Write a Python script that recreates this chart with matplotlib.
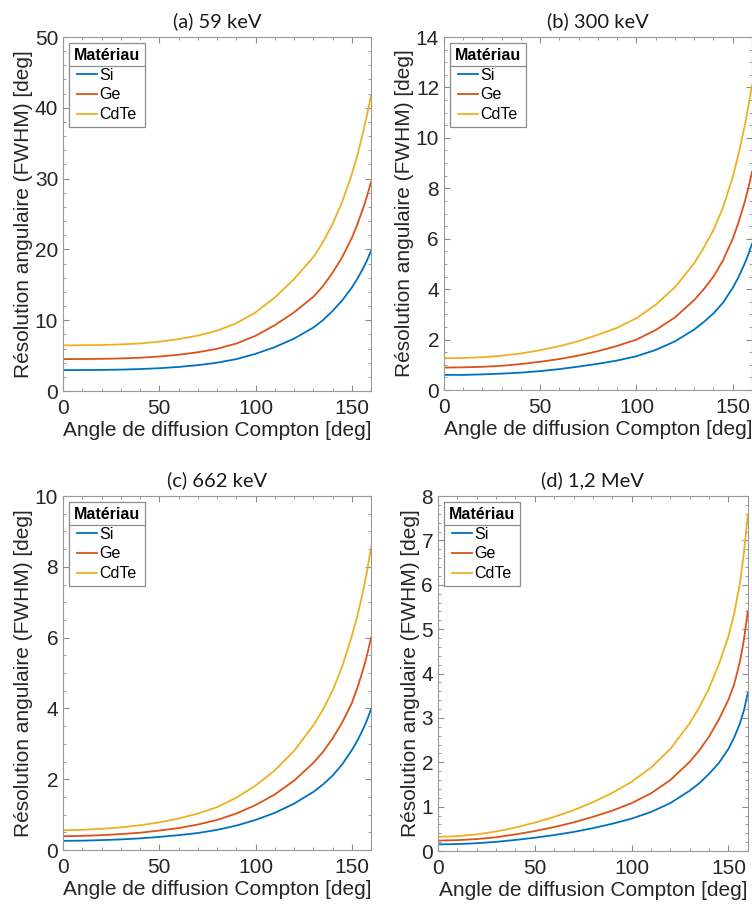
import matplotlib
matplotlib.use("Agg")
import matplotlib.pyplot as plt
from matplotlib.ticker import MultipleLocator, AutoMinorLocator
from matplotlib.lines import Line2D

# angle de diffusion Compton [deg]
angle = [0, 10, 20, 30, 40, 50, 60, 70, 80, 90, 100, 110, 120, 130,
         135, 140, 145, 150, 153, 156, 158, 160]

# (a) 59 keV
si_59 = [2.95, 2.96, 2.98, 3.02, 3.1, 3.22, 3.4, 3.65, 4.0, 4.5, 5.25, 6.2, 7.4, 8.95,
         10.0, 11.3, 12.8, 14.6, 15.9, 17.4, 18.5, 19.8]
ge_59 = [4.5, 4.52, 4.54, 4.6, 4.7, 4.87, 5.12, 5.47, 5.96, 6.7, 7.8, 9.3, 11.1, 13.3,
         14.8, 16.7, 18.9, 21.6, 23.6, 25.9, 27.6, 29.5]
cdte_59 = [6.45, 6.47, 6.5, 6.58, 6.72, 6.97, 7.32, 7.82, 8.52, 9.57, 11.1, 13.2, 15.8, 18.9,
           21.0, 23.6, 26.7, 30.6, 33.4, 36.7, 39.1, 41.8]

# (b) 300 keV
si_300 = [0.6, 0.6, 0.62, 0.65, 0.69, 0.75, 0.83, 0.93, 1.04, 1.17, 1.34, 1.59, 1.93, 2.4,
          2.7, 3.04, 3.47, 4.05, 4.48, 4.98, 5.36, 5.8]
ge_300 = [0.89, 0.9, 0.92, 0.96, 1.03, 1.12, 1.23, 1.37, 1.54, 1.75, 2.0, 2.38, 2.88, 3.57,
          4.0, 4.5, 5.15, 6.0, 6.65, 7.4, 7.98, 8.65]
cdte_300 = [1.26, 1.27, 1.30, 1.36, 1.45, 1.58, 1.74, 1.94, 2.19, 2.47, 2.85, 3.38, 4.08, 5.03,
            5.65, 6.35, 7.25, 8.45, 9.35, 10.4, 11.2, 12.1]

# (c) 662 keV
si_662 = [0.26, 0.265, 0.28, 0.3, 0.33, 0.37, 0.42, 0.48, 0.57, 0.69, 0.85, 1.05, 1.31, 1.64,
          1.85, 2.1, 2.42, 2.82, 3.1, 3.43, 3.68, 3.98]
ge_662 = [0.39, 0.4, 0.42, 0.45, 0.49, 0.55, 0.62, 0.72, 0.85, 1.03, 1.27, 1.57, 1.96, 2.46,
          2.77, 3.15, 3.6, 4.15, 4.6, 5.12, 5.52, 6.0]
cdte_662 = [0.56, 0.57, 0.6, 0.64, 0.7, 0.78, 0.89, 1.03, 1.21, 1.48, 1.82, 2.25, 2.8, 3.52,
            3.96, 4.5, 5.18, 6.04, 6.63, 7.35, 7.9, 8.55]

# (d) 1,2 MeV
si_1200 = [0.15, 0.157, 0.176, 0.207, 0.25, 0.3, 0.36, 0.43, 0.515, 0.615, 0.73, 0.88, 1.08, 1.36,
           1.53, 1.74, 1.98, 2.3, 2.56, 2.88, 3.17, 3.56]
ge_1200 = [0.235, 0.245, 0.27, 0.31, 0.375, 0.45, 0.54, 0.645, 0.77, 0.91, 1.08, 1.3, 1.6, 2.01,
           2.27, 2.58, 2.96, 3.41, 3.76, 4.28, 4.76, 5.4]
cdte_1200 = [0.32, 0.335, 0.375, 0.44, 0.53, 0.64, 0.77, 0.92, 1.1, 1.31, 1.56, 1.88, 2.3, 2.88,
             3.24, 3.67, 4.2, 4.84, 5.36, 6.05, 6.72, 7.58]

materials = ["Si", "Ge", "CdTe"]
colors = ["#0072BD", "#D95319", "#EDB120"]

panels = [
    ("(a) 59 keV", [si_59, ge_59, cdte_59], 50, 10),
    ("(b) 300 keV", [si_300, ge_300, cdte_300], 14, 2),
    ("(c) 662 keV", [si_662, ge_662, cdte_662], 10, 2),
    ("(d) 1,2 MeV", [si_1200, ge_1200, cdte_1200], 8, 1),
]

# axes boxes [left, bottom, width, height] in figure fraction
boxes = [
    [0.0838, 0.5689, 0.4096, 0.3903],
    [0.5904, 0.5700, 0.4096, 0.3892],
    [0.0838, 0.0628, 0.4096, 0.3903],
    [0.5824, 0.0617, 0.4120, 0.3914],
]

plt.rcParams['font.family'] = ['Liberation Sans', 'DejaVu Sans']
fig = plt.figure(figsize=(7.52, 9.07), dpi=100)

legends = []
for (title, series, ymax, ystep), box in zip(panels, boxes):
    ax = fig.add_axes(box)
    for vals, name, c in zip(series, materials, colors):
        ax.plot(angle, vals, color=c, lw=1.3, label=name)
    ax.set_xlim(0, 160)
    ax.set_ylim(0, ymax)
    ax.xaxis.set_major_locator(MultipleLocator(50))
    ax.xaxis.set_minor_locator(MultipleLocator(10))
    ax.yaxis.set_major_locator(MultipleLocator(ystep))
    ax.yaxis.set_minor_locator(AutoMinorLocator())
    ax.tick_params(which='both', direction='in', top=True, right=True,
                   colors='0.55', labelcolor='0.15', labelsize=15)
    ax.tick_params(axis='x', which='major', pad=6)
    ax.tick_params(which='major', length=4)
    ax.tick_params(which='minor', length=2)
    for s in ax.spines.values():
        s.set_color('0.6')
        s.set_linewidth(0.8)
    ax.set_xlabel("Angle de diffusion Compton [deg]", fontsize=15, color='0.15', labelpad=2)
    ax.set_ylabel("Résolution angulaire (FWHM) [deg]", fontsize=15, color='0.15', labelpad=1)
    ax.set_title(title, fontsize=14.5, family='Lato', color='0.1', pad=7)
    leg = ax.legend(title="Matériau", loc='upper left', fontsize=11.5,
                    fancybox=False, edgecolor='0.55', framealpha=1,
                    handlelength=1.25, handletextpad=0.15, labelspacing=0.3,
                    borderpad=0.3, borderaxespad=0.38)
    leg.get_title().set_fontweight('bold')
    leg.get_title().set_fontsize(11.5)
    leg.get_frame().set_linewidth(0.9)
    legends.append(leg)

# separator line under the legend title, as in MATLAB
fig.canvas.draw()
renderer = fig.canvas.get_renderer()
inv = fig.transFigure.inverted()
for leg in legends:
    fb = leg.get_frame().get_window_extent(renderer)
    tb = leg.get_title().get_window_extent(renderer)
    y = tb.y0 - 3
    (x0, yy), = inv.transform([(fb.x0, y)])
    (x1, _), = inv.transform([(fb.x1, y)])
    fig.add_artist(Line2D([x0, x1], [yy, yy], transform=fig.transFigure,
                          color='0.55', lw=0.9))

fig.savefig("out.png", dpi=100)
